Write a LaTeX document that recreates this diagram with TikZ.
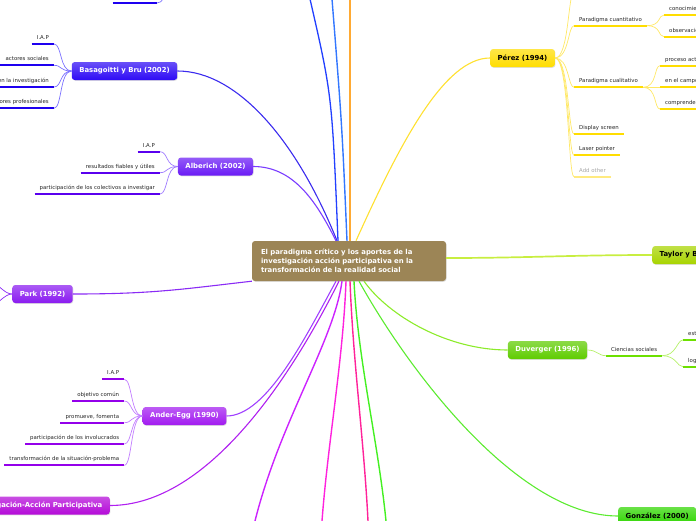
\documentclass[tikz,border=0pt]{standalone}
\usepackage{fontspec}
\setmainfont{DejaVu Sans}
\usetikzlibrary{positioning, shadows}

\definecolor{cafe}{HTML}{9C8556}
\definecolor{basaC}{HTML}{2E0BF5}
\definecolor{basaU}{HTML}{1E00F0}
\definecolor{basaL}{HTML}{7A70FF}
\definecolor{basaT}{HTML}{3B2BEE}
\definecolor{alberC}{HTML}{6A1BF5}
\definecolor{alberU}{HTML}{5A00EE}
\definecolor{alberL}{HTML}{9F7BFF}
\definecolor{alberT}{HTML}{7A3CFF}
\definecolor{parkC}{HTML}{8A1BF0}
\definecolor{parkT}{HTML}{8A2BF5}
\definecolor{anderC}{HTML}{A21BF0}
\definecolor{anderU}{HTML}{9400EA}
\definecolor{anderL}{HTML}{C27DFF}
\definecolor{anderT}{HTML}{A040FF}
\definecolor{iapC}{HTML}{B40AD8}
\definecolor{iapT}{HTML}{B020F0}
\definecolor{perezC}{HTML}{FFDD00}
\definecolor{perezL}{HTML}{FFE866}
\definecolor{perezT}{HTML}{FFE030}
\definecolor{otroU}{HTML}{FFEA80}
\definecolor{taylorC}{HTML}{A8D400}
\definecolor{taylorT}{HTML}{C8EE40}
\definecolor{duvC}{HTML}{5FCC00}
\definecolor{duvU}{HTML}{6CE000}
\definecolor{duvL}{HTML}{B6F06A}
\definecolor{duvT}{HTML}{8CEB2A}
\definecolor{gonC}{HTML}{2FD600}
\definecolor{gonT}{HTML}{5CEB30}
\definecolor{azulO}{HTML}{2240FF}
\definecolor{azulP}{HTML}{3377FF}
\definecolor{naranja}{HTML}{FFAA33}
\definecolor{lila}{HTML}{CC22FF}
\definecolor{fucsia}{HTML}{FF22DD}
\definecolor{rosa}{HTML}{FF2299}
\definecolor{verde}{HTML}{44F022}

\begin{document}
\begin{tikzpicture}[x=1pt, y=-1pt,
  centro/.style={rounded corners=3pt, fill=cafe, text=white, align=left, text width=176pt, inner xsep=9pt, minimum height=40pt, font=\bfseries\fontsize{6.9}{9}\selectfont, drop shadow={opacity=0.25, shadow xshift=0.6pt, shadow yshift=-0.8pt}},
  rama/.style={rounded corners=3pt, inner xsep=7.5pt, inner ysep=0pt, minimum height=18pt, text=white, font=\bfseries\fontsize{6.9}{8}\selectfont, top color=#1!72!white, bottom color=#1, drop shadow={opacity=0.25, shadow xshift=0.6pt, shadow yshift=-0.8pt}},
  hoja/.style={inner xsep=5pt, inner ysep=3.5pt, text height=4pt, text depth=1pt, text=black!85, font=\fontsize{5.4}{6}\selectfont, append after command={(\tikzlastnode.south west) edge[line width=2pt, #1] (\tikzlastnode.south east)}},
  enlace/.style={line width=0.7pt, #1},
  tronco/.style={line width=1.1pt, #1}]

\useasboundingbox (0,0) rectangle (696,520);
\clip (0,0) rectangle (696,520);

% nodo central
\node[centro] (centro) at (349,261) {El paradigma crítico y los aportes de la\\investigación acción participativa en la\\transformación de la realidad social};

% ramas
\node[rama=basaC] (basa) at (124.5,71) {Basagoitti y Bru (2002)};
\node[rama=alberC] (alberich) at (215.5,166.5) {Alberich (2002)};
\node[rama=parkC] (park) at (42.5,294) {Park (1992)};
\node[rama=anderC] (ander) at (184.5,416) {Ander-Egg (1990)};
\node[rama=iapC, anchor=east] (iap) at (110,505.5) {Investigación-Acción Participativa};
\node[rama=perezC, text=black] (perez) at (522.5,58) {Pérez (1994)};
\node[rama=taylorC, text=black, anchor=west] (taylor) at (652,255) {Taylor y Bogdan (1987)};
\node[rama=duvC] (duverger) at (547.5,350) {Duverger (1996)};
\node[rama=gonC, text=black, anchor=west] (gonzalez) at (618,516) {González (2000)};

% hojas
\node[hoja=basaU, anchor=south east, minimum width=44pt] (vacio) at (157,3) {};
\node[hoja=basaU, anchor=south east] (b1) at (54,44) {I.A.P};
\node[hoja=basaU, anchor=south east] (b2) at (54,65.3) {actores sociales};
\node[hoja=basaU, anchor=south east] (b3) at (54,87) {participación en la investigación};
\node[hoja=basaU, anchor=south east] (b4) at (54,108.3) {investigadores profesionales};

\node[hoja=alberU, anchor=south east] (a1) at (160,151.7) {I.A.P};
\node[hoja=alberU, anchor=south east] (a2) at (160,172.7) {resultados fiables y útiles};
\node[hoja=alberU, anchor=south east] (a3) at (160,194) {participación de los colectivos a investigar};

\node[hoja=anderU, anchor=south east] (e1) at (124.3,379.3) {I.A.P};
\node[hoja=anderU, anchor=south east] (e2) at (124.3,401) {objetivo común};
\node[hoja=anderU, anchor=south east] (e3) at (124.3,422.7) {promueve, fomenta};
\node[hoja=anderU, anchor=south east] (e4) at (124.3,444) {participación de los involucrados};
\node[hoja=anderU, anchor=south east] (e5) at (124.3,465.3) {transformación de la situación-problema};

\node[hoja=perezC, anchor=south west] (p1) at (574,25.7) {Paradigma cuantitativo};
\node[hoja=perezC, anchor=south west] (p2) at (574,87.3) {Paradigma cualitativo};
\node[hoja=perezC, anchor=south west] (p3) at (574,134) {Display screen};
\node[hoja=perezC, anchor=south west] (p4) at (574,155.3) {Laser pointer};
\node[hoja=otroU, anchor=south west, text=black!35] (p5) at (574,176.7) {Add other};
\node[hoja=perezC, anchor=south west] (p11) at (664,15) {conocimiento objetivo};
\node[hoja=perezC, anchor=south west] (p12) at (664,36.7) {observación directa};
\node[hoja=perezC, anchor=south west] (p21) at (660,65.7) {proceso activo};
\node[hoja=perezC, anchor=south west] (p22) at (660,87.3) {en el campo natural};
\node[hoja=perezC, anchor=south west] (p23) at (660,109) {comprender la realidad};

\node[hoja=duvU, anchor=south west] (d1) at (606,355.7) {Ciencias sociales};
\node[hoja=duvU, anchor=south west] (d11) at (683,340) {estudio};
\node[hoja=duvU, anchor=south west] (d12) at (683,366.7) {lograr};

% puntos fuera del cuadro
\coordinate (fuera1) at (310,-1);
\coordinate (fuera2) at (332,-1);
\coordinate (fuera3) at (350,-1);
\coordinate (abajo1) at (255,521);
\coordinate (abajo2) at (322,521);
\coordinate (abajo3) at (368,521);
\coordinate (abajo4) at (386,521);
\coordinate (parkA) at (-8,283);
\coordinate (parkB) at (-8,305);
\coordinate (perezA) at (574,-8);
\coordinate (vacioA) at (168,-10);

% enlaces de las hojas
\foreach \h in {b1,b2,b3,b4} \draw[enlace=basaL] (basa.west) .. controls +(-12,0) and +(8,0) .. (\h.south east);
\foreach \h in {a1,a2,a3} \draw[enlace=alberL] (alberich.west) .. controls +(-12,0) and +(8,0) .. (\h.south east);
\foreach \h in {e1,e2,e3,e4,e5} \draw[enlace=anderL] (ander.west) .. controls +(-12,0) and +(8,0) .. (\h.south east);
\foreach \h in {p1,p2,p3,p4,p5,perezA} \draw[enlace=perezL] (perez.east) .. controls +(14,0) and +(-6,0) .. (\h.south west);
\foreach \h in {p11,p12} \draw[enlace=perezL] (p1.south east) .. controls +(14,0) and +(-6,0) .. (\h.south west);
\foreach \h in {p21,p22,p23} \draw[enlace=perezL] (p2.south east) .. controls +(14,0) and +(-6,0) .. (\h.south west);
\foreach \h in {d11,d12} \draw[enlace=duvL] (d1.south east) .. controls +(14,0) and +(-6,0) .. (\h.south west);
\draw[enlace=duvL] (duverger.east) .. controls +(10,0) and +(-8,0) .. (d1.south west);
\foreach \h in {parkA,parkB} \draw[enlace=parkT] (park.west) .. controls +(-8,0) and +(6,0) .. (\h);
\draw[enlace=basaL] (vacio.south east) .. controls +(6,0) and +(-4,6) .. (vacioA);

% enlaces al nodo central
\draw[tronco=basaT] (basa.east) .. controls +(60,0) and +(-40,-100) .. ([xshift=-12pt]centro.north);
\draw[tronco=alberT] (alberich.east) .. controls +(40,0) and +(-20,-40) .. ([xshift=-13pt]centro.north);
\draw[tronco=parkT] (park.east) .. controls +(80,0) and +(-70,8) .. (centro.south west);
\draw[tronco=anderT] (ander.east) .. controls +(40,0) and +(-30,55) .. ([xshift=-13pt]centro.south);
\draw[tronco=iapT] (iap.east) .. controls +(100,0) and +(-45,90) .. ([xshift=-10pt]centro.south);
\draw[tronco=perezT] (perez.west) .. controls +(-45,0) and +(45,-100) .. ([xshift=7pt]centro.north);
\draw[tronco=taylorT, line width=1.7pt] ([yshift=3pt]centro.east) .. controls +(80,0) and +(-80,0) .. (taylor.west);
\draw[tronco=duvT] ([xshift=15pt]centro.south) .. controls +(25,35) and +(-60,0) .. (duverger.west);
\draw[tronco=gonT] ([xshift=10pt]centro.south) .. controls +(50,90) and +(-100,0) .. (gonzalez.west);
\draw[tronco=azulO, line width=1.3pt] ([xshift=-11pt]centro.north) .. controls (332,95) .. (fuera1);
\draw[tronco=azulP, line width=1.4pt] ([xshift=-2pt]centro.north) .. controls (342,125) .. (fuera2);
\draw[tronco=naranja, line width=1.4pt] ([xshift=1pt]centro.north) -- (fuera3);
\draw[tronco=lila, line width=1.4pt] ([xshift=-7pt]centro.south) .. controls +(-8,60) and +(25,-100) .. (abajo1);
\draw[tronco=fucsia, line width=1.4pt] ([xshift=-3pt]centro.south) .. controls +(-3,80) and +(6,-80) .. (abajo2);
\draw[tronco=rosa, line width=1.4pt] ([xshift=1pt]centro.south) .. controls +(3,80) and +(-4,-80) .. (abajo3);
\draw[tronco=verde, line width=1.4pt] ([xshift=5pt]centro.south) .. controls +(4,80) and +(-8,-80) .. (abajo4);

\end{tikzpicture}
\end{document}
